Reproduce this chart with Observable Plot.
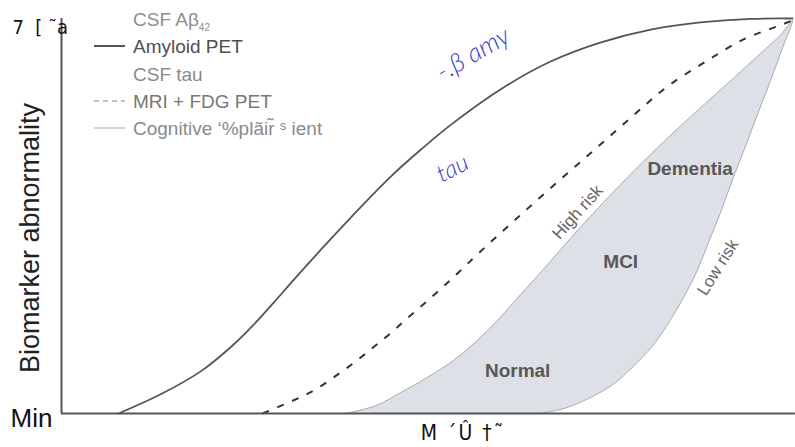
<!DOCTYPE html>
<html><head><meta charset="utf-8">
<script src="https://cdn.jsdelivr.net/npm/d3@7"></script>
<script src="https://cdn.jsdelivr.net/npm/@observablehq/plot@0.6"></script>
<style>body{margin:0;background:#fff}svg{display:block}</style>
</head><body><div id="chart"></div>
<script>
// Time axis (0–100) and biomarker abnormality (0 = Min, 1 = Max)
const amyloidX = [7.8, 13.5, 19.0, 23.1, 26.3, 29.0, 31.7, 36.4, 40.9, 45.4, 49.1, 53.2, 60.1, 66.9, 73.7, 80.6, 87.4, 94.3, 100];
const amyloidY = [0, 0.048, 0.106, 0.167, 0.225, 0.280, 0.337, 0.433, 0.522, 0.606, 0.667, 0.730, 0.821, 0.891, 0.939, 0.972, 0.990, 0.999, 1.0];

const mriX = [27.5, 31.7, 34.5, 37.2, 39.9, 42.5, 45.0, 47.3, 49.8, 52.1, 54.3, 56.9, 61.8, 67.3, 72.8, 78.2, 82.9, 88.4, 93.3, 97.9, 100];
const mriY = [0, 0.033, 0.058, 0.091, 0.127, 0.165, 0.203, 0.241, 0.281, 0.319, 0.357, 0.403, 0.486, 0.577, 0.666, 0.754, 0.828, 0.894, 0.947, 0.980, 0.995];

// Cognitive impairment band: high-risk edge and low-risk edge
const highRiskX = [38.9, 43.0, 46.4, 49.1, 53.6, 58.3, 62.8, 66.5, 69.6, 72.8, 75.5, 80.2, 85.1, 91.1, 95.6, 98.4, 100];
const highRiskY = [0, 0.020, 0.053, 0.081, 0.134, 0.210, 0.301, 0.377, 0.443, 0.508, 0.561, 0.649, 0.735, 0.835, 0.911, 0.959, 0.995];
const lowRiskX = [65.5, 68.8, 72.1, 75.4, 78.2, 80.8, 83.0, 85.1, 86.9, 88.5, 90.2, 91.9, 93.6, 95.2, 97.0, 98.6];
const lowRiskY = [0, 0.013, 0.038, 0.073, 0.119, 0.170, 0.228, 0.294, 0.359, 0.433, 0.511, 0.597, 0.678, 0.757, 0.843, 0.924];

const yTickValues = [0, 1];
const yTickLabels = ["Min", "7  [ \u02dca"];
const xAxisLabel = "M \u00b4\u00db \u2020\u02dc";
const yAxisLabel = "Biomarker abnormality";

const stageLabels = ["Normal", "MCI", "Dementia"];
const stageX = [62.4, 76.5, 86.0];
const stageY = [0.109, 0.385, 0.620];

const riskLabels = ["High risk", "Low risk"];
const riskX = [70.6, 89.8];
const riskY = [0.51, 0.37];

const noteLabels = ["-.\u03b2 amy", "tau"];
const noteX = [56.3, 53.5];
const noteY = [0.91, 0.62];

const legendLabels = ["CSF A\u03b2", "Amyloid PET", "CSF tau", "MRI + FDG PET", "Cognitive \u02bb%pl\u00e3ir\u0303 \u02e2 ient"];

const pts = (xs, ys) => xs.map((x, i) => ({x, y: ys[i]}));
const amyloid = pts(amyloidX, amyloidY);
const mri = pts(mriX, mriY);
const band = [...pts(highRiskX, highRiskY), ...pts(lowRiskX, lowRiskY).reverse()];
const stages = stageLabels.map((t, i) => ({t, x: stageX[i], y: stageY[i]}));
const risks = riskLabels.map((t, i) => ({t, x: riskX[i], y: riskY[i]}));
const notes = noteLabels.map((t, i) => ({t, x: noteX[i], y: noteY[i]}));

const font = "'Liberation Sans', Arial, sans-serif";
const narrow = "'Liberation Sans Narrow', 'DejaVu Sans Condensed', 'Liberation Sans', sans-serif";
const chart = Plot.plot({
  width: 795, height: 447,
  marginLeft: 61, marginRight: 3, marginTop: 18, marginBottom: 34,
  x: {domain: [0, 100], axis: null},
  y: {domain: [0, 1], axis: null},
  style: {background: "#fff", fontFamily: font, overflow: "visible"},
  marks: [
    Plot.line(band, {x: "x", y: "y", fill: "#dde0e6", stroke: "#a8aaaf", strokeWidth: 1, curve: "catmull-rom"}),
    Plot.line(amyloid, {x: "x", y: "y", stroke: "#555", strokeWidth: 1.8, curve: "catmull-rom"}),
    Plot.line(mri, {x: "x", y: "y", stroke: "#333", strokeWidth: 2, strokeDasharray: "7,9", strokeLinecap: "butt", curve: "catmull-rom"}),
    Plot.ruleX([0], {y1: 0, y2: 1, stroke: "#555", strokeWidth: 2}),
    Plot.ruleY([0], {x1: 0, x2: 100.4, stroke: "#555", strokeWidth: 2}),
    Plot.text(stages, {x: "x", y: "y", text: "t", fontSize: 19, fontWeight: "bold", fill: "#585858"}),
    Plot.text(risks.slice(0, 1), {x: "x", y: "y", text: "t", fontSize: 17, fill: "#666", rotate: -48}),
    Plot.text(risks.slice(1), {x: "x", y: "y", text: "t", fontSize: 17, fill: "#666", rotate: -58}),
    Plot.text(notes.slice(0, 1), {x: "x", y: "y", text: "t", fontSize: 26, fontStyle: "italic", fontWeight: 300, fill: "#3c3ccc", rotate: -30, fontFamily: "Lato, sans-serif"}),
    Plot.text(notes.slice(1), {x: "x", y: "y", text: "t", fontSize: 24, fontStyle: "italic", fontWeight: 300, fill: "#3c3ccc", rotate: -27, fontFamily: "Lato, sans-serif"}),
    Plot.text([yTickValues[0]], {x: 0, y: (d) => d, text: () => yTickLabels[0], textAnchor: "end", dx: -9, dy: 5, fontSize: 26, fill: "#111"}),
    Plot.text([yTickValues[1]], {x: 0, y: (d) => d, text: () => yTickLabels[1], textAnchor: "start", dx: -49, dy: 9, fontSize: 20, fill: "#111", fontFamily: narrow})
  ]
});

const svg = d3.select(chart);
svg.selectAll("text").filter(function(){ return this.textContent === yTickLabels[1]; }).style("white-space", "pre");

// axis titles
svg.append("text").attr("x", 463).attr("y", 440).attr("text-anchor", "middle").style("white-space", "pre")
  .attr("letter-spacing", 2).attr("font-family", narrow).attr("font-size", 21).attr("fill", "#111").text(xAxisLabel);
svg.append("text").attr("transform", "translate(39,238) rotate(-90)").attr("text-anchor", "middle")
  .attr("font-family", font).attr("font-size", 27).attr("fill", "#222").text(yAxisLabel);

// legend
const lg = svg.append("g").attr("font-family", font).attr("font-size", 19).attr("text-anchor", "start");
const rowY = [19, 46, 74, 101, 128];
const textFill = ["#8e8e8e", "#4e4e4e", "#8a8a8a", "#777", "#8a8a8a"];
const lineStyle = [null, {s: "#555", d: null, w: 2}, null, {s: "#aaa", d: "5,4", w: 1.5}, {s: "#c8c8c8", d: null, w: 1.5}];
legendLabels.forEach((t, i) => {
  const st = lineStyle[i];
  if (st) lg.append("line").attr("x1", 94).attr("x2", 125).attr("y1", rowY[i]).attr("y2", rowY[i])
    .attr("stroke", st.s).attr("stroke-width", st.w).attr("stroke-dasharray", st.d);
  const tx = lg.append("text").attr("x", 133).attr("y", rowY[i]).attr("dy", "0.35em").attr("fill", textFill[i]).text(t);
  if (i === 0) tx.append("tspan").attr("font-size", 10).attr("dy", 5).text("42");
});

document.getElementById("chart").append(chart);
</script>
</body></html>
